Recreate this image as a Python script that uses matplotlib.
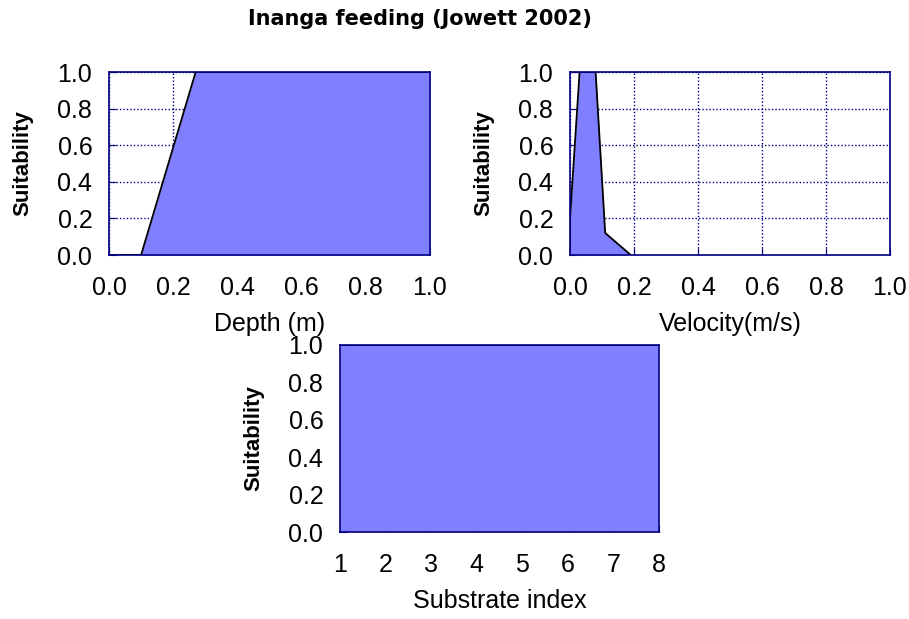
import matplotlib.pyplot as plt

plt.rcParams['font.family'] = ['Liberation Sans', 'DejaVu Sans']

# curvas de adequação (habitat suitability)
depth_x = [0.0, 0.1, 0.27, 1.0]
depth_y = [0.0, 0.0, 1.0, 1.0]

vel_x = [0.0, 0.0, 0.03, 0.08, 0.11, 0.19]
vel_y = [0.0, 0.2, 1.0, 1.0, 0.12, 0.0]

sub_x = [1, 8]
sub_y = [1.0, 1.0]

ticks01 = [0.0, 0.2, 0.4, 0.6, 0.8, 1.0]
sub_ticks = [1, 2, 3, 4, 5, 6, 7, 8]

FILL = '#7f7fff'
NAVY = '#000080'
W, H = 909, 619


def add_axes(fig, x0, y0, x1, y1):
    # coordenadas em pixels (origem no canto superior esquerdo)
    return fig.add_axes([x0 / W, 1 - y1 / H, (x1 - x0) / W, (y1 - y0) / H])


def panel(ax, x, y, xlim, xticks, xlabel, grid=True, xfmt='{:.1f}'):
    if grid:
        ax.grid(True, color=NAVY, linestyle=(0, (1, 1.5)), linewidth=1.0, zorder=0)
    ax.set_axisbelow(True)
    ax.fill_between(x, y, 0, color=FILL, zorder=2, linewidth=0)
    ax.plot(x, y, color='black', linewidth=1.3, zorder=3)
    ax.set_xlim(*xlim)
    ax.set_ylim(0, 1.0)
    ax.set_xticks(xticks)
    ax.set_xticklabels([xfmt.format(t) for t in xticks])
    ax.set_yticks(ticks01)
    ax.set_yticklabels(['{:.1f}'.format(t) for t in ticks01])
    ax.tick_params(direction='in', color=NAVY, length=5, labelsize=18)
    ax.tick_params(axis='x', pad=15)
    ax.tick_params(axis='y', pad=12)
    for s in ax.spines.values():
        s.set_color(NAVY)
        s.set_linewidth(1.2)
        s.set_zorder(4)
    pos = ax.get_position()
    wpx, hpx = pos.width * W, pos.height * H
    ax.set_xlabel(xlabel, fontsize=18, va='center')
    ax.xaxis.set_label_coords(0.5, -69 / hpx)
    ax.set_ylabel('Suitability', fontsize=16, fontweight='bold', va='center')
    ax.yaxis.set_label_coords(-86 / wpx, 0.5)


fig = plt.figure(figsize=(W / 100, H / 100), dpi=100)
fig.text(420 / W, 1 - 19 / H, 'Inanga feeding (Jowett 2002)', ha='center', va='center',
         fontsize=15, fontweight='bold', family='DejaVu Sans')

ax1 = add_axes(fig, 109, 72, 430, 255)
panel(ax1, depth_x, depth_y, (0, 1.0), ticks01, 'Depth (m)')

ax2 = add_axes(fig, 570, 72, 890, 255)
panel(ax2, vel_x, vel_y, (0, 1.0), ticks01, 'Velocity(m/s)')

ax3 = add_axes(fig, 340, 345, 659, 532)
panel(ax3, sub_x, sub_y, (1, 8), sub_ticks, 'Substrate index', grid=False, xfmt='{}')

fig.savefig('out.png', dpi=100)
